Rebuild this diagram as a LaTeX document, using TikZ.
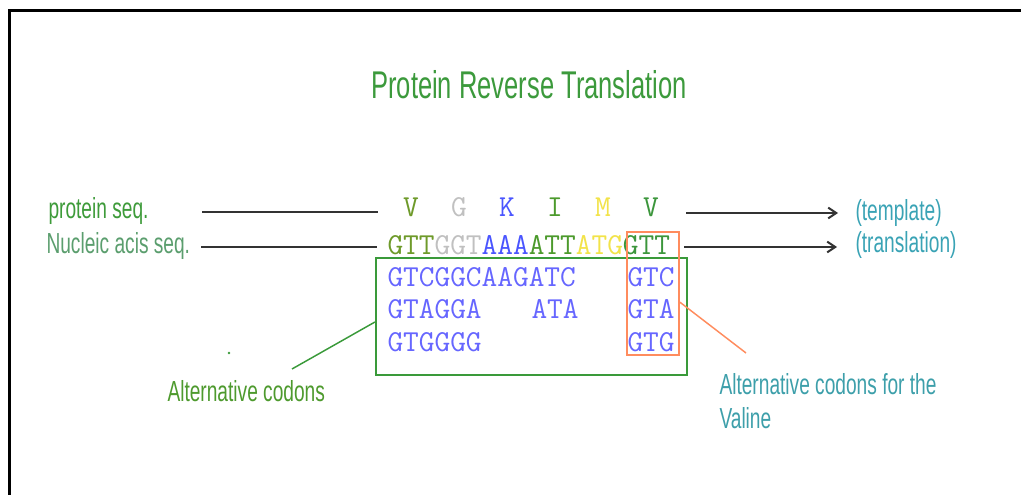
\documentclass[tikz,border=0pt]{standalone}
\usepackage{fontspec}
\setmainfont{Liberation Sans}
\newfontfamily\narrowfont[FakeStretch=0.66]{Liberation Sans}
\usetikzlibrary{arrows.meta}

\definecolor{titlegreen}{HTML}{3C9A3C}
\definecolor{protgreen}{HTML}{3E9B3A}
\definecolor{nucgreen}{HTML}{5B9E6E}
\definecolor{tealtext}{HTML}{3AA3B5}
\definecolor{altgreen}{HTML}{4E9A2E}
\definecolor{valteal}{HTML}{3D9FAA}
\definecolor{colVa}{HTML}{6E9A2A}
\definecolor{colG}{HTML}{C0C0C0}
\definecolor{colK}{HTML}{4A55FF}
\definecolor{colI}{HTML}{4C9A2C}
\definecolor{colM}{HTML}{F2E34A}
\definecolor{colVb}{HTML}{3C963C}
\definecolor{altblue}{HTML}{6666FF}
\definecolor{boxgreen}{HTML}{3A9A3A}
\definecolor{boxorange}{HTML}{FF8C5E}
\definecolor{lineg}{HTML}{333333}

\tikzset{every picture/.style={line width=0.75pt}}
\tikzset{
  lbl/.style={font=\narrowfont\fontsize{21.75}{26}\selectfont, inner sep=0pt, anchor=base west},
  codon/.style={font=\ttfamily\fontsize{22.86}{26}\selectfont, inner sep=0pt, anchor=base west},
  aminoacid/.style={font=\ttfamily\fontsize{22.86}{26}\selectfont, inner sep=0pt, anchor=base},
  seqline/.style={draw=lineg, line width=1.5pt},
  seqarrow/.style={seqline, -{Straight Barb[length=6pt,width=8pt]}},
}

\begin{document}
\begin{tikzpicture}[x=0.75pt,y=0.75pt,yscale=-1,xscale=1]
	\useasboundingbox (0,0) rectangle (1021,495);

	%Frame
	\draw [line width=2.25pt] (1021,10.5) -- (9.5,10.5) -- (9.5,495) ;

	% Text Node
	\draw (529,99) node [font=\narrowfont\fontsize{29}{34}\selectfont, text=titlegreen, anchor=base] (title) {Protein Reverse Translation};

	% Text Node
	\draw (48,219) node [lbl, text=protgreen] (protlbl) {protein seq.};
	% Text Node
	\draw (46,254) node [lbl, text=nucgreen] (nuclbl) {Nucleic acis seq.};

	% Protein letters
	\draw (411,217) node [aminoacid, text=colVa] (aa1) {V};
	\draw (459,217) node [aminoacid, text=colG] (aa2) {G};
	\draw (507,217) node [aminoacid, text=colK] (aa3) {K};
	\draw (555,217) node [aminoacid, text=colI] (aa4) {I};
	\draw (603,217) node [aminoacid, text=colM] (aa5) {M};
	\draw (651,217) node [aminoacid, text=colVb] (aa6) {V};

	% Nucleic sequence
	\draw (387,255) node [codon] (nucseq) {\textcolor{colVa}{GTT}\textcolor{colG}{GGT}\textcolor{colK}{AAA}\textcolor{colI}{ATT}\textcolor{colM}{ATG}\textcolor{colVb}{GTT}};

	% Alternative codons
	\draw (387,287) node [codon, text=altblue] (alt1) {GTCGGCAAGATC};
	\draw (387,319) node [codon, text=altblue] (alt2) {GTAGGA};
	\draw (531,319) node [codon, text=altblue] (alt2b) {ATA};
	\draw (387,351) node [codon, text=altblue] (alt3) {GTGGGG};
	\draw (627,287) node [codon, text=altblue] (val1) {GTC};
	\draw (627,319) node [codon, text=altblue] (val2) {GTA};
	\draw (627,351) node [codon, text=altblue] (val3) {GTG};

	%Shape: Rectangle
	\node [draw=boxgreen, line width=1.5pt, inner sep=0pt, minimum width=233.25pt, minimum height=87.75pt] (gbox) at (531.5,316.5) {};
	%Shape: Rectangle
	\node [draw=boxorange, line width=1.5pt, inner sep=0pt, minimum width=39pt, minimum height=92.25pt] (obox) at (653,293.5) {};

	%Straight Lines
	\coordinate (p1) at (202,212.5);
	\coordinate (p2) at (378,212.5);
	\draw [seqline] (p1) -- (p2) ;
	\coordinate (n1) at (201,247);
	\coordinate (n2) at (377,247);
	\draw [seqline] (n1) -- (n2) ;
	\coordinate (p3) at (686,213);
	\coordinate (p4) at (838,213);
	\draw [seqarrow] (p3) -- (p4) ;
	\coordinate (n3) at (684,247);
	\coordinate (n4) at (837,247);
	\draw [seqarrow] (n3) -- (n4) ;

	% Text Node
	\draw (855,221) node [lbl, text=tealtext] (templ) {(template)};
	% Text Node
	\draw (855,253) node [lbl, text=tealtext] (transl) {(translation)};

	%Straight Lines
	\coordinate (gtip) at (292,369);
	\draw [boxgreen, line width=1.1pt] (gbox.182) -- (gtip) ;
	\node [circle, fill=boxgreen, inner sep=0pt, minimum size=2pt] (gdot) at (229,353) {};
	%Straight Lines
	\coordinate (otip) at (746,353);
	\draw [boxorange, line width=1.1pt] (obox.-18) -- (otip) ;

	% Text Node
	\draw (167,401) node [lbl, text=altgreen] (altlbl) {Alternative codons};
	% Text Node
	\draw (719,394) node [lbl, text=valteal] (vallbl) {Alternative codons for the};
	\draw (719,428) node [lbl, text=valteal] (vallbl2) {Valine};

\end{tikzpicture}
\end{document}
